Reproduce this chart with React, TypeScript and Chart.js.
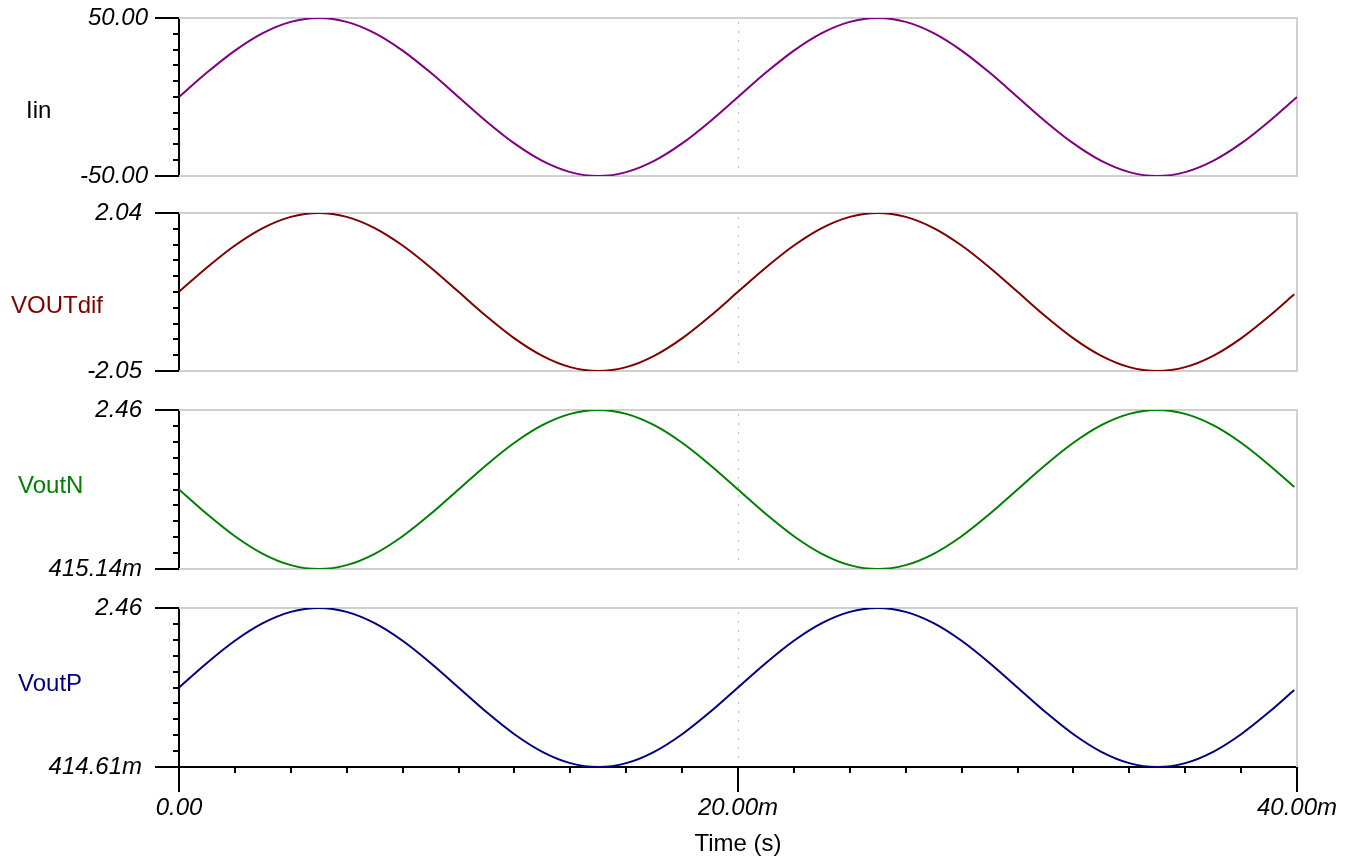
import React, { useEffect, useRef } from 'react';
import { Chart, registerables } from 'chart.js';

Chart.register(...registerables);

// ---------- data ----------
const timeMs = [
  0, 1, 2, 3, 4, 5, 6, 7, 8, 9, 10, 11, 12, 13, 14, 15, 16, 17, 18, 19,
  20, 21, 22, 23, 24, 25, 26, 27, 28, 29, 30, 31, 32, 33, 34, 35, 36, 37, 38, 39, 40,
];
const timeMsV = [
  0, 1, 2, 3, 4, 5, 6, 7, 8, 9, 10, 11, 12, 13, 14, 15, 16, 17, 18, 19,
  20, 21, 22, 23, 24, 25, 26, 27, 28, 29, 30, 31, 32, 33, 34, 35, 36, 37, 38, 39, 39.9,
];

const iinValues = [
  0, 15.45, 29.39, 40.45, 47.55, 50, 47.55, 40.45, 29.39, 15.45,
  0, -15.45, -29.39, -40.45, -47.55, -50, -47.55, -40.45, -29.39, -15.45,
  0, 15.45, 29.39, 40.45, 47.55, 50, 47.55, 40.45, 29.39, 15.45,
  0, -15.45, -29.39, -40.45, -47.55, -50, -47.55, -40.45, -29.39, -15.45,
  0,
];

const voutDifValues = [
  0, 0.63, 1.199, 1.65, 1.94, 2.04, 1.94, 1.65, 1.199, 0.63,
  0, -0.633, -1.205, -1.658, -1.95, -2.05, -1.95, -1.658, -1.205, -0.633,
  0, 0.63, 1.199, 1.65, 1.94, 2.04, 1.94, 1.65, 1.199, 0.63,
  0, -0.633, -1.205, -1.658, -1.95, -2.05, -1.95, -1.658, -1.205, -0.633,
  -0.064,
];

const voutNValues = [
  1.4376, 1.1217, 0.8366, 0.6105, 0.4652, 0.41514, 0.4652, 0.6105, 0.8366, 1.1217,
  1.4376, 1.7535, 2.0386, 2.2647, 2.41, 2.46, 2.41, 2.2647, 2.0386, 1.7535,
  1.4376, 1.1217, 0.8366, 0.6105, 0.4652, 0.41514, 0.4652, 0.6105, 0.8366, 1.1217,
  1.4376, 1.7535, 2.0386, 2.2647, 2.41, 2.46, 2.41, 2.2647, 2.0386, 1.7535,
  1.4697,
];

const voutPValues = [
  1.4373, 1.7533, 2.0384, 2.2647, 2.41, 2.46, 2.41, 2.2647, 2.0384, 1.7533,
  1.4373, 1.1213, 0.8362, 0.6099, 0.4646, 0.41461, 0.4646, 0.6099, 0.8362, 1.1213,
  1.4373, 1.7533, 2.0384, 2.2647, 2.41, 2.46, 2.41, 2.2647, 2.0384, 1.7533,
  1.4373, 1.1213, 0.8362, 0.6099, 0.4646, 0.41461, 0.4646, 0.6099, 0.8362, 1.1213,
  1.4052,
];

const iinRange = [-50, 50];
const voutDifRange = [-2.05, 2.04];
const voutNRange = [0.41514, 2.46];
const voutPRange = [0.41461, 2.46];

const iinTickLabels = ['-50.00', '50.00'];
const voutDifTickLabels = ['-2.05', '2.04'];
const voutNTickLabels = ['415.14m', '2.46'];
const voutPTickLabels = ['414.61m', '2.46'];

const xRange = [0, 40];
const xTickValues = [0, 20, 40];
const xTickLabels = ['0.00', '20.00m', '40.00m'];
const xMinorStep = 2;
const xGridValue = 20;
const xTitle = 'Time (s)';

// ---------- layout / style ----------
const FONT = '"Liberation Sans", Arial, Helvetica, sans-serif';
const PAGE_W = 1356;
const PAGE_H = 861;
const AXIS_X = 179;
const PLOT_RIGHT = 1297;

type PanelCfg = {
  name: string;
  lineColor: string;
  labelColor: string;
  times: number[];
  values: number[];
  range: number[];
  tickLabels: string[];
  top: number;
  bottom: number;
  tickPad: number;
  labelX: number;
  labelBaseline: number;
};

const panels: PanelCfg[] = [
  { name: 'Iin', lineColor: '#800080', labelColor: '#000000', times: timeMs, values: iinValues, range: iinRange, tickLabels: iinTickLabels, top: 18, bottom: 176, tickPad: 31, labelX: 26, labelBaseline: 100 },
  { name: 'VOUTdif', lineColor: '#800000', labelColor: '#800000', times: timeMsV, values: voutDifValues, range: voutDifRange, tickLabels: voutDifTickLabels, top: 213, bottom: 371, tickPad: 37, labelX: 11, labelBaseline: 100 },
  { name: 'VoutN', lineColor: '#008000', labelColor: '#008000', times: timeMsV, values: voutNValues, range: voutNRange, tickLabels: voutNTickLabels, top: 410, bottom: 569, tickPad: 37, labelX: 18, labelBaseline: 83 },
  { name: 'VoutP', lineColor: '#000080', labelColor: '#000080', times: timeMsV, values: voutPValues, range: voutPRange, tickLabels: voutPTickLabels, top: 608, bottom: 767, tickPad: 37, labelX: 18, labelBaseline: 83 },
];

function makeDecor(cfg: PanelCfg, last: boolean) {
  return {
    id: 'decor',
    beforeDatasetsDraw(chart: any) {
      const { ctx, chartArea: a, scales } = chart;
      const x = scales.x;
      ctx.save();
      ctx.strokeStyle = '#d0d0d0';
      ctx.lineWidth = 2;
      ctx.beginPath();
      ctx.moveTo(a.left, a.top);
      ctx.lineTo(a.right, a.top);
      ctx.lineTo(a.right, a.bottom);
      if (!last) ctx.lineTo(a.left, a.bottom);
      ctx.stroke();
      const gx = Math.round(x.getPixelForValue(xGridValue)) + 0.5;
      ctx.setLineDash([2, 7]);
      ctx.lineWidth = 1;
      ctx.strokeStyle = '#bdbdbd';
      ctx.beginPath();
      ctx.moveTo(gx, a.top + 4);
      ctx.lineTo(gx, a.bottom - 2);
      ctx.stroke();
      ctx.restore();
    },
    afterDraw(chart: any) {
      const { ctx, chartArea: a, scales } = chart;
      const x = scales.x;
      const y = scales.y;
      const [mn, mx] = cfg.range;
      ctx.save();
      ctx.strokeStyle = '#000';
      ctx.lineWidth = 2;
      ctx.beginPath();
      for (let i = 0; i <= 10; i++) {
        const v = mn + ((mx - mn) * i) / 10;
        const py = Math.round(y.getPixelForValue(v));
        const len = i === 0 || i === 10 ? 24 : 6;
        ctx.moveTo(a.left - len, py);
        ctx.lineTo(a.left, py);
      }
      if (last) {
        for (let v = xRange[0]; v <= xRange[1]; v += xMinorStep) {
          const px = Math.round(x.getPixelForValue(v));
          const len = xTickValues.includes(v) ? 25 : 6;
          ctx.moveTo(px, a.bottom);
          ctx.lineTo(px, a.bottom + len);
        }
      }
      ctx.stroke();
      ctx.fillStyle = cfg.labelColor;
      ctx.font = `24px ${FONT}`;
      ctx.textAlign = 'left';
      ctx.textBaseline = 'alphabetic';
      ctx.fillText(cfg.name, cfg.labelX, a.top + cfg.labelBaseline);
      ctx.restore();
    },
  };
}

function Panel({ cfg, last }: { cfg: PanelCfg; last: boolean }) {
  const ref = useRef<HTMLCanvasElement>(null);
  const canvasTop = cfg.top - 18;
  const canvasHeight = last ? PAGE_H - canvasTop : cfg.bottom - cfg.top + 36;

  useEffect(() => {
    const canvas = ref.current;
    if (!canvas) return;
    const [mn, mx] = cfg.range;
    const chart = new Chart(canvas, {
      type: 'line',
      data: {
        datasets: [
          {
            label: cfg.name,
            data: cfg.times.map((t, i) => ({ x: t, y: cfg.values[i] })),
            borderColor: cfg.lineColor,
            borderWidth: 2,
            pointRadius: 0,
            fill: false,
            cubicInterpolationMode: 'monotone',
          },
        ],
      },
      options: {
        responsive: false,
        animation: false,
        devicePixelRatio: 1,
        events: [],
        layout: {
          padding: { left: 0, right: PAGE_W - PLOT_RIGHT, top: 18, bottom: last ? 0 : 18 },
        },
        plugins: {
          legend: { display: false },
          tooltip: { enabled: false },
          title: { display: false },
        },
        scales: {
          x: {
            type: 'linear',
            min: xRange[0],
            max: xRange[1],
            display: last,
            afterBuildTicks: (s: any) => {
              s.ticks = xTickValues.map((v) => ({ value: v }));
            },
            afterFit: (s: any) => {
              if (last) s.height = PAGE_H - cfg.bottom;
              s.paddingLeft = 0;
              s.paddingRight = 0;
            },
            grid: { display: false, drawTicks: false },
            border: { display: true, color: '#000', width: 2 },
            ticks: {
              padding: 27,
              color: '#000',
              autoSkip: false,
              maxRotation: 0,
              font: { family: FONT, size: 24, style: 'italic' },
              callback: (_v: any, i: number) => xTickLabels[i],
            },
            title: {
              display: true,
              text: xTitle,
              color: '#000',
              font: { family: FONT, size: 24 },
              padding: { top: 0, bottom: 2 },
            },
          },
          y: {
            type: 'linear',
            position: 'left',
            min: mn,
            max: mx,
            afterBuildTicks: (s: any) => {
              s.ticks = [{ value: mn }, { value: mx }];
            },
            afterFit: (s: any) => {
              s.width = AXIS_X;
              s.paddingTop = 0;
              s.paddingBottom = 0;
            },
            grid: { display: false, drawTicks: false },
            border: { display: true, color: '#000', width: 2 },
            ticks: {
              padding: cfg.tickPad,
              color: '#000',
              autoSkip: false,
              font: { family: FONT, size: 24, style: 'italic' },
              callback: (_v: any, i: number) => cfg.tickLabels[i],
            },
          },
        },
      } as any,
      plugins: [makeDecor(cfg, last)],
    });
    return () => chart.destroy();
  }, []);

  return (
    <canvas
      ref={ref}
      width={PAGE_W}
      height={canvasHeight}
      style={{ position: 'absolute', left: 0, top: canvasTop, width: PAGE_W, height: canvasHeight }}
    />
  );
}

export default function App() {
  return (
    <div
      style={{
        position: 'absolute',
        left: 0,
        top: 0,
        width: PAGE_W,
        height: PAGE_H,
        background: '#ffffff',
        overflow: 'hidden',
      }}
    >
      {panels.map((p, i) => (
        <Panel key={p.name} cfg={p} last={i === panels.length - 1} />
      ))}
    </div>
  );
}
